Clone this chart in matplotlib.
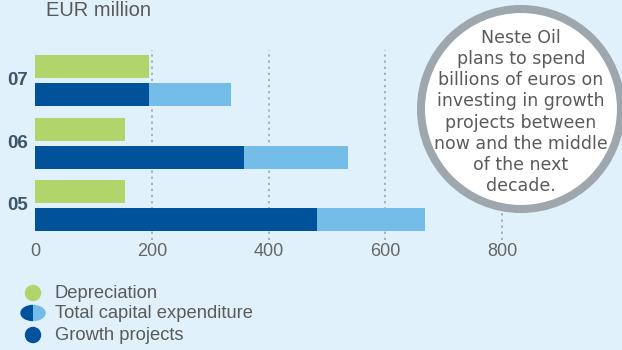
import matplotlib
matplotlib.use("Agg")
import matplotlib.pyplot as plt
from matplotlib.patches import Circle, Ellipse, Rectangle

years = ["05", "06", "07"]
depreciation = [154, 154, 195]
growth_projects = [483, 358, 195]
total_capex = [668, 536, 336]
xticks = [0, 200, 400, 600, 800]
unit_label = "EUR million"
legend_labels = ["Depreciation", "Total capital expenditure", "Growth projects"]
note_text = ("Neste Oil\nplans to spend\nbillions of euros on\ninvesting in growth\n"
             "projects between\nnow and the middle\nof the next\ndecade.")

BG = "#e0f1fb"
GREEN = "#b2d56b"
DARK = "#00529b"
LIGHT = "#74bde8"
TXT = "#5a5a5a"
FONT = "Liberation Sans"

W, H = 622, 350
fig = plt.figure(figsize=(W / 100, H / 100), dpi=100, facecolor=BG)

x0 = 35
ppu = 0.584
ax = fig.add_axes([x0 / W, 0, 1 - x0 / W, 1])
ax.set_facecolor("none")
ax.set_xlim(0, (W - x0) / ppu)
spacing = 62.5
base = 219.5
ax.set_ylim(-(H - base) / spacing, base / spacing)
ax.axis("off")

def py(p):
    return (base - p) / spacing

bh = 23 / spacing
goff = 28 / spacing

for t in xticks[1:]:
    ax.plot([t, t], [py(240), py(50)], color="#9aa0a6", lw=1.1,
            ls=(0, (1.5, 2.5)), zorder=1)
for t in xticks:
    ax.text(t, py(251), str(t), ha="center", va="center", fontsize=13,
            color="#666666", family=FONT)

for i, y in enumerate(years):
    ax.barh(i, total_capex[i], height=bh, color=LIGHT, zorder=2)
    ax.barh(i, growth_projects[i], height=bh, color=DARK, zorder=3)
    ax.barh(i + goff, depreciation[i], height=bh, color=GREEN, zorder=3)
    ax.text(-(x0 - 18) / ppu, i + goff / 2, y, ha="center", va="center",
            fontsize=13.5, fontweight="bold", color="#3e5667", family=FONT)

ov = fig.add_axes([0, 0, 1, 1])
ov.set_xlim(0, W)
ov.set_ylim(H, 0)
ov.axis("off")
ov.set_facecolor("none")

ov.text(46, 10, unit_label, ha="left", va="center", fontsize=14.5,
        color=TXT, family=FONT)

circ = Circle((521, 109), 100, facecolor="white", edgecolor="#9ea6ae",
              lw=5.8, zorder=5)
ov.add_patch(circ)
ov.text(521, 112, note_text, ha="center", va="center", fontsize=12.5,
        color=TXT, family="DejaVu Sans", linespacing=1.22, zorder=6)

ly = [293, 313, 335]
ov.add_patch(Circle((33, ly[0]), 7.5, color=GREEN))
e1 = Ellipse((33, ly[1]), 24, 15, color=DARK)
e2 = Ellipse((33, ly[1]), 24, 15, color=LIGHT)
ov.add_patch(e1)
ov.add_patch(e2)
r1 = Rectangle((20, ly[1] - 9), 13.3, 18, transform=ov.transData)
r2 = Rectangle((33.3, ly[1] - 9), 13, 18, transform=ov.transData)
e1.set_clip_path(r1)
e2.set_clip_path(r2)
ov.add_patch(Circle((33, ly[2]), 7.5, color=DARK))
for yy, lab in zip(ly, legend_labels):
    ov.text(55, yy, lab, ha="left", va="center", fontsize=13.2,
            color=TXT, family=FONT)

fig.savefig("out.png", dpi=100, facecolor=BG)
